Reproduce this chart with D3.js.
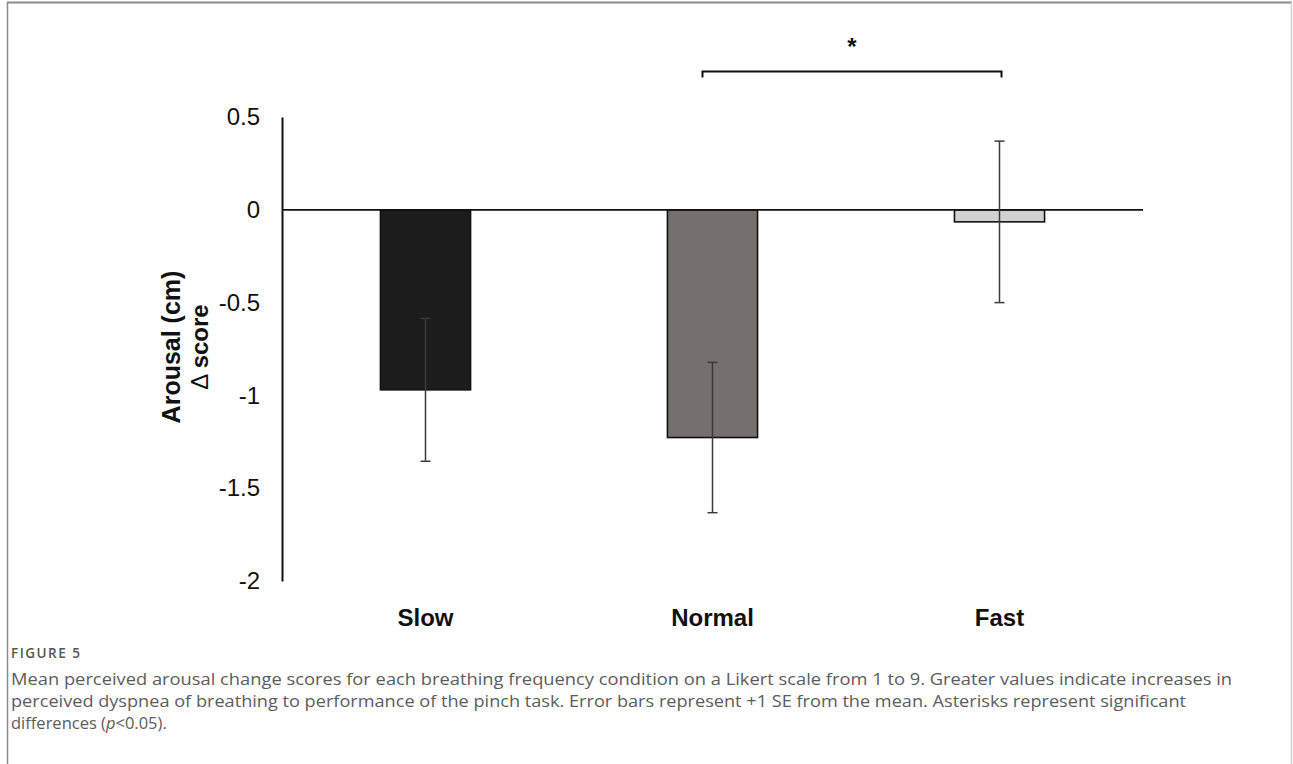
<!DOCTYPE html>
<html>
<head>
<meta charset="utf-8">
<script src="https://cdn.jsdelivr.net/npm/d3@7"></script>
<style>
  html, body { margin: 0; padding: 0; background: #fff; }
  svg { display: block; }
</style>
</head>
<body>
<svg id="fig" width="1293" height="764"></svg>
<script>
// Breathing frequency conditions and mean arousal change (± 1 SE)
const categories = ["Slow", "Normal", "Fast"];
const means = [-0.97, -1.227, -0.065];
const errors = [0.385, 0.405, 0.435];
const yTicks = [0.5, 0, -0.5, -1, -1.5, -2];
const yTickLabels = ["0.5", "0", "-0.5", "-1", "-1.5", "-2"];
const barFills = ["#1c1c1c", "#766f6f", "#d1d1d1"];

// Significance bracket between Normal and Fast
const sigPair = ["Normal", "Fast"];
const sigLevel = 0.745;
const sigMark = "*";

const captionTitle = "FIGURE 5";
const captionLines = [
  [{ t: "Mean perceived arousal change scores for each breathing frequency condition on a Likert scale from 1 to 9. Greater values indicate increases in" }],
  [{ t: "perceived dyspnea of breathing to performance of the pinch task. Error bars represent +1 SE from the mean. Asterisks represent significant" }],
  [{ t: "differences (" }, { t: "p", italic: true }, { t: "<0.05)." }]
];
const captionWidths = [1221, 1175, null];

const svg = d3.select("#fig");
const W = 1293, H = 764;

// Outer frame
svg.append("line").attr("x1", 7).attr("x2", 1292).attr("y1", 2.5).attr("y2", 2.5)
  .attr("stroke", "#8a8a8a").attr("stroke-width", 2);
svg.append("line").attr("x1", 7.5).attr("x2", 7.5).attr("y1", 2).attr("y2", H)
  .attr("stroke", "#8a8a8a").attr("stroke-width", 1.5);
svg.append("line").attr("x1", 1291.5).attr("x2", 1291.5).attr("y1", 2).attr("y2", H)
  .attr("stroke", "#cfcfcf").attr("stroke-width", 1.5);

const plot = { left: 282, right: 1143, top: 117, bottom: 581 };

const x = d3.scaleBand().domain(categories).range([plot.left, plot.right]).padding(0);
const y = d3.scaleLinear().domain([-2, 0.5]).range([plot.bottom, plot.top]);
const barW = x.bandwidth() * 0.314;
const cx = c => x(c) + x.bandwidth() / 2;

const font = "'Liberation Sans', Arial, sans-serif";

// Y axis (no tick marks, just the spine and labels)
const yAxis = d3.axisLeft(y).tickValues(yTicks)
  .tickFormat((d, i) => yTickLabels[i]).tickSize(0).tickPadding(22);
const gy = svg.append("g").attr("transform", `translate(${plot.left},0)`).call(yAxis);
gy.select(".domain").attr("stroke", "#111").attr("stroke-width", 2);
gy.selectAll("text").attr("font-family", font).attr("font-size", 24).attr("fill", "#111");

// Bars
svg.append("g").selectAll("rect").data(categories).join("rect")
  .attr("x", c => cx(c) - barW / 2)
  .attr("width", barW)
  .attr("y", (c, i) => Math.min(y(0), y(means[i])))
  .attr("height", (c, i) => Math.abs(y(means[i]) - y(0)))
  .attr("fill", (c, i) => barFills[i])
  .attr("stroke", "#111")
  .attr("stroke-width", 1.6);

// Zero line
svg.append("line")
  .attr("x1", plot.left).attr("x2", plot.right)
  .attr("y1", y(0)).attr("y2", y(0))
  .attr("stroke", "#111").attr("stroke-width", 1.8);

// Error bars
const eb = svg.append("g").attr("stroke", "#3a3a3a").attr("stroke-width", 1.5);
categories.forEach((c, i) => {
  const lo = y(means[i] - errors[i]), hi = y(means[i] + errors[i]);
  eb.append("line").attr("x1", cx(c)).attr("x2", cx(c)).attr("y1", hi).attr("y2", lo);
  [lo, hi].forEach(v => eb.append("line")
    .attr("x1", cx(c) - 5).attr("x2", cx(c) + 5).attr("y1", v).attr("y2", v));
});

// Category labels
svg.append("g").selectAll("text").data(categories).join("text")
  .attr("x", c => cx(c)).attr("y", 626)
  .attr("text-anchor", "middle")
  .attr("font-family", font).attr("font-size", 24).attr("font-weight", "bold")
  .attr("fill", "#111")
  .text(c => c);

// Y axis title (two stacked lines)
const ty = svg.append("g").attr("transform", "translate(0,347) rotate(-90)");
ty.append("text").attr("x", 0).attr("y", 180)
  .attr("text-anchor", "middle").attr("font-family", font)
  .attr("font-size", 25).attr("font-weight", "bold").attr("fill", "#111")
  .text("Arousal (cm)");
const t2 = ty.append("text").attr("x", 0).attr("y", 208)
  .attr("text-anchor", "middle").attr("font-family", font)
  .attr("font-size", 24).attr("fill", "#111");
t2.append("tspan").attr("font-weight", "normal").text("\u0394 ");
t2.append("tspan").attr("font-weight", "bold").text("score");

// Significance bracket
const bx1 = cx(sigPair[0]) - 10, bx2 = cx(sigPair[1]) + 2;
const by = y(sigLevel);
svg.append("path")
  .attr("d", `M${bx1},${by + 6}V${by}H${bx2}V${by + 6}`)
  .attr("fill", "none").attr("stroke", "#111").attr("stroke-width", 2);
svg.append("text")
  .attr("x", (bx1 + bx2) / 2).attr("y", by - 17)
  .attr("text-anchor", "middle").attr("font-family", font)
  .attr("font-size", 24).attr("font-weight", "bold").attr("fill", "#111")
  .text(sigMark);

// Caption
const capFont = "'Open Sans', Lato, sans-serif";
svg.append("text").attr("x", 11).attr("y", 658)
  .attr("font-family", capFont).attr("font-size", 13.5).attr("font-weight", 600)
  .attr("fill", "#555").attr("textLength", 69).attr("lengthAdjust", "spacing")
  .text(captionTitle);
captionLines.forEach((parts, i) => {
  const t = svg.append("text").attr("x", 11).attr("y", 685 + i * 22)
    .attr("font-family", capFont).attr("font-size", 16.5)
    .attr("fill", "#5c5c5c");
  if (captionWidths[i]) t.attr("textLength", captionWidths[i]).attr("lengthAdjust", "spacingAndGlyphs");
  parts.forEach(p => {
    const s = t.append("tspan").text(p.t);
    if (p.italic) s.attr("font-style", "italic");
  });
});
</script>
</body>
</html>
